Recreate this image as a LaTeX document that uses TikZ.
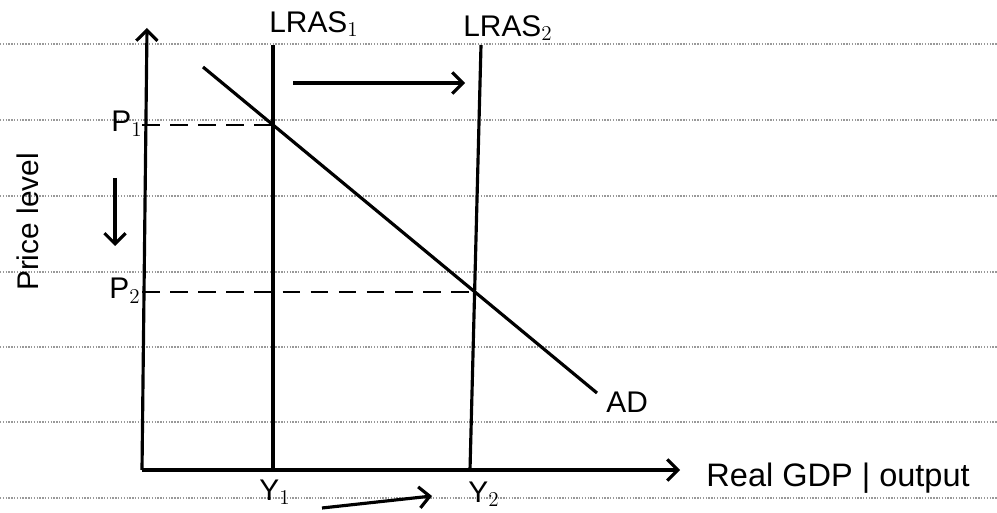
\documentclass[tikz,border=0pt]{standalone}
\usepackage{fontspec}
\setmainfont{Liberation Sans}
\usetikzlibrary{arrows.meta,positioning,calc}

\begin{document}
\begin{tikzpicture}[x=0.02cm, y=-0.02cm, thick]
  \tikzstyle{ruled} = [draw, gray!80, dash pattern=on 0.8pt off 0.8pt, line width=0.9pt]
  \tikzstyle{axisline} = [draw, -{Straight Barb[length=6pt,width=12pt]}, line width=1.8pt]
  \tikzstyle{lras} = [draw, line width=1.8pt]
  \tikzstyle{adline} = [draw, line width=1.8pt]
  \tikzstyle{guide} = [draw, dash pattern=on 10pt off 6pt, line width=1.1pt]
  \tikzstyle{shiftarrow} = [draw, -{Straight Barb[length=6pt,width=12pt]}, line width=1.8pt]
  \tikzstyle{lbl} = [font=\fontsize{17}{17}\selectfont, inner sep=1pt]

  \useasboundingbox (0,0) rectangle (997,513);
  % lined paper
  \foreach \y in {44,120,196,272,347,422,498}
    \draw[ruled] (0,\y) -- (997,\y);

  % axes
  \coordinate (O) at (142,470);
  \coordinate (ytop) at (147,28);
  \coordinate (xend) at (680,470);
  \path[axisline] (O) -- (ytop);
  \path[axisline] (O) -- (xend);
  \node[lbl, font=\fontsize{18.5}{18.5}\selectfont, anchor=west] (xlab) at (704,478) {Real GDP | output};
  \node[lbl, rotate=90] (ylab) at (28,222) {Price level};

  % supply curves
  \coordinate (l1top) at (273,45);
  \coordinate (l1bot) at (273,470);
  \coordinate (l2top) at (481,45);
  \coordinate (l2bot) at (470,470);
  \path[lras] (l1top) -- (l1bot);
  \path[lras] (l2top) -- (l2bot);
  \node[lbl] (lras1) at (314,24) {LRAS$_1$};
  \node[lbl] (lras2) at (508,28) {LRAS$_2$};

  % demand curve
  \coordinate (ad1) at (203,67);
  \coordinate (ad2) at (597,393);
  \path[adline] (ad1) -- (ad2);
  \node[lbl, anchor=west] (adlab) at (604,402) {AD};

  % equilibria
  \coordinate (E1) at (intersection of ad1--ad2 and l1top--l1bot);
  \coordinate (E2) at (intersection of ad1--ad2 and l2top--l2bot);
  \node[lbl] (p1) at (127,124) {P$_1$};
  \node[lbl] (p2) at (125,291) {P$_2$};
  \path[guide] (O |- E1) -- (E1);
  \path[guide] (O |- E2) -- (E2);
  \node[lbl] (y1) at (275,492) {Y$_1$};
  \node[lbl] (y2) at (484,494) {Y$_2$};

  % shifts
  \coordinate (sh1) at (293,83);
  \coordinate (sh2) at (465,83);
  \path[shiftarrow] (sh1) -- (sh2);
  \coordinate (pd1) at (115,178);
  \coordinate (pd2) at (115,246);
  \path[shiftarrow] (pd1) -- (pd2);
  \coordinate (yd1) at (322,508);
  \coordinate (yd2) at (432,496);
  \path[shiftarrow] (yd1) -- (yd2);
\end{tikzpicture}
\end{document}
